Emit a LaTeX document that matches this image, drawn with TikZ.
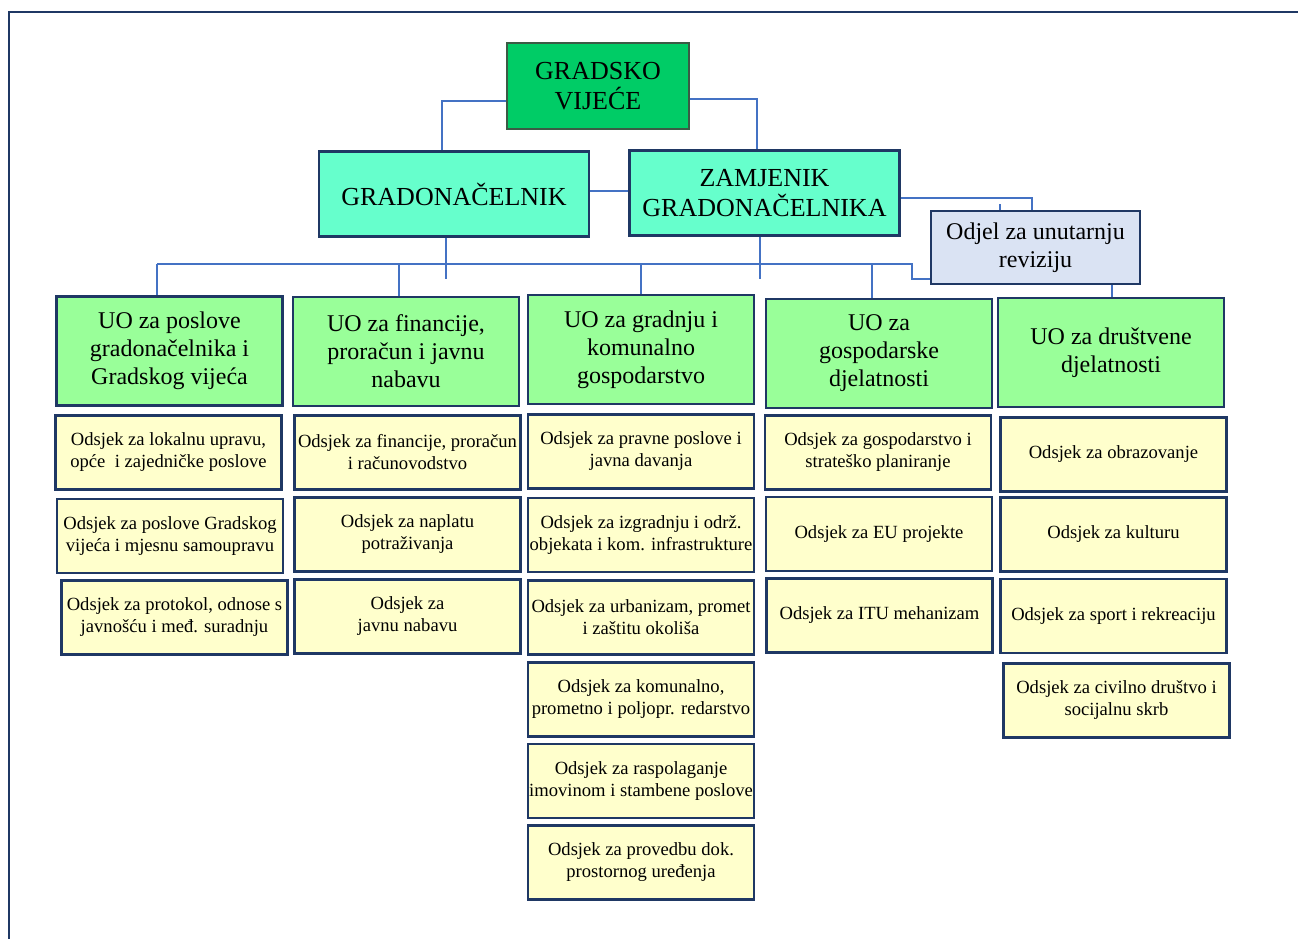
\documentclass[tikz,border=0pt]{standalone}
\usepackage{fontspec}
\setmainfont{Liberation Serif}
\definecolor{navy}{HTML}{1F3864}
\definecolor{linkblue}{HTML}{4472C4}
\definecolor{gvgreen}{HTML}{00CC66}
\definecolor{gvborder}{HTML}{3B5B45}
\definecolor{aqua}{HTML}{66FFCC}
\definecolor{uogreen}{HTML}{99FF99}
\definecolor{paleyellow}{HTML}{FFFFCC}
\definecolor{paleblue}{HTML}{DAE3F3}
\tikzset{
  box/.style={draw=navy, line width=2.6pt, align=center, inner sep=0pt, text=black},
  topbox/.style={box, fill=aqua, minimum width=270pt, minimum height=85pt, font=\fontsize{26}{30}\selectfont},
  sbox/.style={box, fill=paleyellow, minimum width=226pt, minimum height=74pt, font=\fontsize{18.6}{22}\selectfont},
  uobox/.style={box, fill=uogreen, minimum width=226pt, minimum height=109pt, font=\fontsize{24}{28}\selectfont},
  link/.style={draw=linkblue, line width=1.3pt},
}
\begin{document}
\begin{tikzpicture}[x=1pt,y=-1pt]
\useasboundingbox (0,0) rectangle (1298,939);
% frame
\draw[navy, line width=2.2pt] (1298,12) -- (9,12) -- (9,939);

% top level
\node[box, draw=gvborder, line width=1.5pt, fill=gvgreen, minimum width=182pt, minimum height=86pt,
      font=\fontsize{26}{30}\selectfont] (gv) at (598,86) {GRADSKO\\VIJEĆE};
\node[topbox] (grad) at (454,194) {GRADONAČELNIK};
\node[topbox] (zam) at (764.5,193) {ZAMJENIK\\GRADONAČELNIKA};
\node[box, line width=2pt, fill=paleblue, minimum width=209pt, minimum height=73pt,
      font=\fontsize{24}{28}\selectfont] (odjel) at (1035.5,247.5) {Odjel za unutarnju\\reviziju};

% UO boxes
\node[uobox] (uo1) at (169.5,351) {UO za poslove\\gradonačelnika i\\Gradskog vijeća};
\node[uobox] (uo2) at (406,351.5) {UO za financije,\\proračun i javnu\\nabavu};
\node[uobox] (uo3) at (641,349.5) {UO za gradnju i\\komunalno\\gospodarstvo};
\node[uobox] (uo4) at (879,353.5) {UO za\\gospodarske\\djelatnosti};
\node[uobox] (uo5) at (1111,352.5) {UO za društvene\\djelatnosti};

% column 1
\node[sbox] (c1a) at (168.5,452.5) {Odsjek za lokalnu upravu,\\opće\ \ i zajedničke poslove};
\node[sbox] (c1b) at (170,536) {Odsjek za poslove Gradskog\\vijeća i mjesnu samoupravu};
\node[sbox] (c1c) at (174.5,617.5) {Odsjek za protokol, odnose s\\javnošću i međ. suradnju};
% column 2
\node[sbox] (c2a) at (407.5,452.5) {Odsjek za financije, proračun\\i računovodstvo};
\node[sbox] (c2b) at (407.5,534.5) {Odsjek za naplatu\\potraživanja};
\node[sbox] (c2c) at (407.5,616.5) {Odsjek za\\javnu nabavu};
% column 3
\node[sbox] (c3a) at (641,451.5) {Odsjek za pravne poslove i\\javna davanja};
\node[sbox] (c3b) at (641,535) {Odsjek za izgradnju i održ.\\objekata i kom. infrastrukture};
\node[sbox] (c3c) at (641,617.5) {Odsjek za urbanizam, promet\\i zaštitu okoliša};
\node[sbox] (c3d) at (641,699.5) {Odsjek za komunalno,\\prometno i poljopr. redarstvo};
\node[sbox] (c3e) at (641,781) {Odsjek za raspolaganje\\imovinom i stambene poslove};
\node[sbox] (c3f) at (641,862.5) {Odsjek za provedbu dok.\\prostornog uređenja};
% column 4
\node[sbox] (c4a) at (878,452.5) {Odsjek za gospodarstvo i\\strateško planiranje};
\node[sbox] (c4b) at (879,534) {Odsjek za EU projekte};
\node[sbox] (c4c) at (879.5,615.5) {Odsjek za ITU mehanizam};
% column 5
\node[sbox] (c5a) at (1113.5,454.5) {Odsjek za obrazovanje};
\node[sbox] (c5b) at (1113.5,534.5) {Odsjek za kulturu};
\node[sbox] (c5c) at (1113.5,616) {Odsjek za sport i rekreaciju};
\node[sbox] (c5d) at (1116.5,700.5) {Odsjek za civilno društvo i\\socijalnu skrb};

% connector coordinates
\coordinate (k1) at (442,101);
\coordinate (k2) at (757,99);
\coordinate (k3) at (600,191);
\coordinate (k4) at (1032,198);
\coordinate (t1) at (1000,204);
\coordinate (b0) at (157,264);
\coordinate (b1) at (912,264);
\coordinate (b2) at (912,279);
\coordinate (d2) at (399,264);
\coordinate (d3) at (641,264);
\coordinate (d4) at (872,264);
\coordinate (s1) at (446,279);
\coordinate (s2) at (760,279);
\coordinate (s3) at (1112,290);

% connectors
\draw[link] (gv.west |- k1) -- (k1) -- (k1 |- grad.north);
\draw[link] (gv.east |- k2) -- (k2) -- (k2 |- zam.north);
\draw[link] (grad.east |- k3) -- (zam.west |- k3);
\draw[link] (zam.east |- k4) -- (k4) -- (k4 |- odjel.north);
\draw[link] (t1) -- (t1 |- odjel.north);
\draw[link] (b0) -- (b1) -- (b2) -- (odjel.west |- b2);
\draw[link] (s1 |- grad.south) -- (s1);
\draw[link] (s2 |- zam.south) -- (s2);
\draw[link] (b0) -- (b0 |- uo1.north);
\draw[link] (d2) -- (d2 |- uo2.north);
\draw[link] (d3) -- (d3 |- uo3.north);
\draw[link] (d4) -- (d4 |- uo4.north);
\draw[link] (s3 |- odjel.south) -- (s3 |- uo5.north);
\end{tikzpicture}
\end{document}
